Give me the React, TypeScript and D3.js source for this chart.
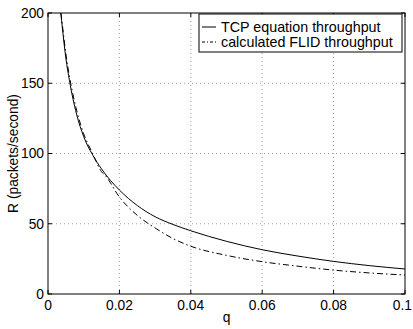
import React, { useRef, useEffect } from 'react';
import * as d3 from 'd3';

// loss rate q
const tcpQ = [0.0036, 0.004, 0.005, 0.006, 0.008, 0.01, 0.0125, 0.015, 0.02, 0.025, 0.03, 0.035, 0.04, 0.05, 0.06, 0.07, 0.08, 0.09, 0.1];
// TCP equation throughput (packets/second)
const tcpR = [200, 190, 168, 152, 128, 112, 99, 89, 74, 63, 55, 49.5, 45, 37.5, 31.5, 27, 23.2, 20.2, 17.8];

const flidQ = [0.0036, 0.004, 0.005, 0.006, 0.008, 0.01, 0.0125, 0.015, 0.016, 0.02, 0.025, 0.03, 0.035, 0.04, 0.05, 0.06, 0.07, 0.08, 0.09, 0.1];
// calculated FLID throughput
const flidR = [200, 192, 171, 155, 131, 114, 100, 87, 84.5, 69, 56, 47, 39.5, 34, 27.5, 23, 19.8, 17, 15, 13.5];

const xTicks = [0, 0.02, 0.04, 0.06, 0.08, 0.1];
const yTicks = [0, 50, 100, 150, 200];
const legendLabels = ['TCP equation throughput', 'calculated FLID throughput'];

function App() {
  const svgRef = useRef<SVGSVGElement>(null);

  useEffect(() => {
    const svg = d3.select(svgRef.current);
    svg.selectAll('*').remove();

    const margin = { top: 13, right: 8, bottom: 35, left: 48 };
    const width = 413 - margin.left - margin.right;
    const height = 329 - margin.top - margin.bottom;
    const font = 'Liberation Sans, Arial, Helvetica, sans-serif';
    const fs = 13.8;

    const g = svg.append('g').attr('transform', `translate(${margin.left},${margin.top})`);

    const x = d3.scaleLinear().domain([0, 0.1]).range([0, width]);
    const y = d3.scaleLinear().domain([0, 200]).range([height, 0]);

    // grid
    g.selectAll('.vgrid')
      .data(xTicks.slice(1, -1))
      .enter()
      .append('line')
      .attr('x1', d => x(d)).attr('x2', d => x(d))
      .attr('y1', 0).attr('y2', height)
      .attr('stroke', '#888').attr('stroke-width', 0.8).attr('stroke-dasharray', '1,3');
    g.selectAll('.hgrid')
      .data(yTicks.slice(1, -1))
      .enter()
      .append('line')
      .attr('x1', 0).attr('x2', width)
      .attr('y1', d => y(d)).attr('y2', d => y(d))
      .attr('stroke', '#888').attr('stroke-width', 0.8).attr('stroke-dasharray', '1,3');

    g.append('clipPath').attr('id', 'plotclip')
      .append('rect').attr('width', width).attr('height', height);

    const line = d3.line<[number, number]>()
      .x(d => x(d[0]))
      .y(d => y(d[1]))
      .curve(d3.curveMonotoneX);

    const tcpData = tcpQ.map((q, i) => [q, tcpR[i]] as [number, number]);
    const flidData = flidQ.map((q, i) => [q, flidR[i]] as [number, number]);

    g.append('path')
      .datum(tcpData)
      .attr('clip-path', 'url(#plotclip)')
      .attr('d', line)
      .attr('fill', 'none')
      .attr('stroke', '#000')
      .attr('stroke-width', 1);
    g.append('path')
      .datum(flidData)
      .attr('clip-path', 'url(#plotclip)')
      .attr('d', line)
      .attr('fill', 'none')
      .attr('stroke', '#000')
      .attr('stroke-width', 1)
      .attr('stroke-dasharray', '6,3,1.5,3');

    // axes box
    g.append('rect')
      .attr('width', width).attr('height', height)
      .attr('fill', 'none').attr('stroke', '#000').attr('stroke-width', 1);

    const tickLen = 4;
    xTicks.forEach((t, i) => {
      const last = i === xTicks.length - 1;
      g.append('line').attr('x1', x(t)).attr('x2', x(t)).attr('y1', height).attr('y2', height - tickLen).attr('stroke', '#000');
      g.append('line').attr('x1', x(t)).attr('x2', x(t)).attr('y1', 0).attr('y2', tickLen).attr('stroke', '#000');
      g.append('text')
        .attr('x', last ? x(t) + 7 : x(t)).attr('y', height + 16)
        .attr('text-anchor', last ? 'end' : 'middle')
        .attr('font-family', font).attr('font-size', fs)
        .text(String(t));
    });
    yTicks.forEach(t => {
      g.append('line').attr('x1', 0).attr('x2', tickLen).attr('y1', y(t)).attr('y2', y(t)).attr('stroke', '#000');
      g.append('line').attr('x1', width).attr('x2', width - tickLen).attr('y1', y(t)).attr('y2', y(t)).attr('stroke', '#000');
      g.append('text')
        .attr('x', -4).attr('y', y(t)).attr('dy', '0.35em')
        .attr('text-anchor', 'end')
        .attr('font-family', font).attr('font-size', fs)
        .text(String(t));
    });

    // axis labels
    svg.append('text')
      .attr('x', margin.left + width / 2).attr('y', 322)
      .attr('text-anchor', 'middle')
      .attr('font-family', font).attr('font-size', fs)
      .text('q');
    svg.append('text')
      .attr('transform', `translate(18,${margin.top + height / 2}) rotate(-90)`)
      .attr('text-anchor', 'middle')
      .attr('font-family', font).attr('font-size', fs)
      .text('R (packets/second)');

    // legend
    const lg = svg.append('g');
    lg.append('rect')
      .attr('x', 199).attr('y', 14).attr('width', 203).attr('height', 38)
      .attr('fill', '#fff').attr('stroke', '#000').attr('stroke-width', 1);
    legendLabels.forEach((lab, i) => {
      const cy = 27 + i * 15;
      lg.append('line')
        .attr('x1', 202).attr('x2', 216).attr('y1', cy).attr('y2', cy)
        .attr('stroke', '#000').attr('stroke-width', 1)
        .attr('stroke-dasharray', i === 1 ? '3,2,1,2' : null);
      lg.append('text')
        .attr('x', 221).attr('y', cy).attr('dy', '0.35em')
        .attr('font-family', font).attr('font-size', 14.3)
        .text(lab);
    });
  }, []);

  return <svg ref={svgRef} width={413} height={329} style={{ position: 'absolute', left: 0, top: 0 }}></svg>;
}

export default App;
